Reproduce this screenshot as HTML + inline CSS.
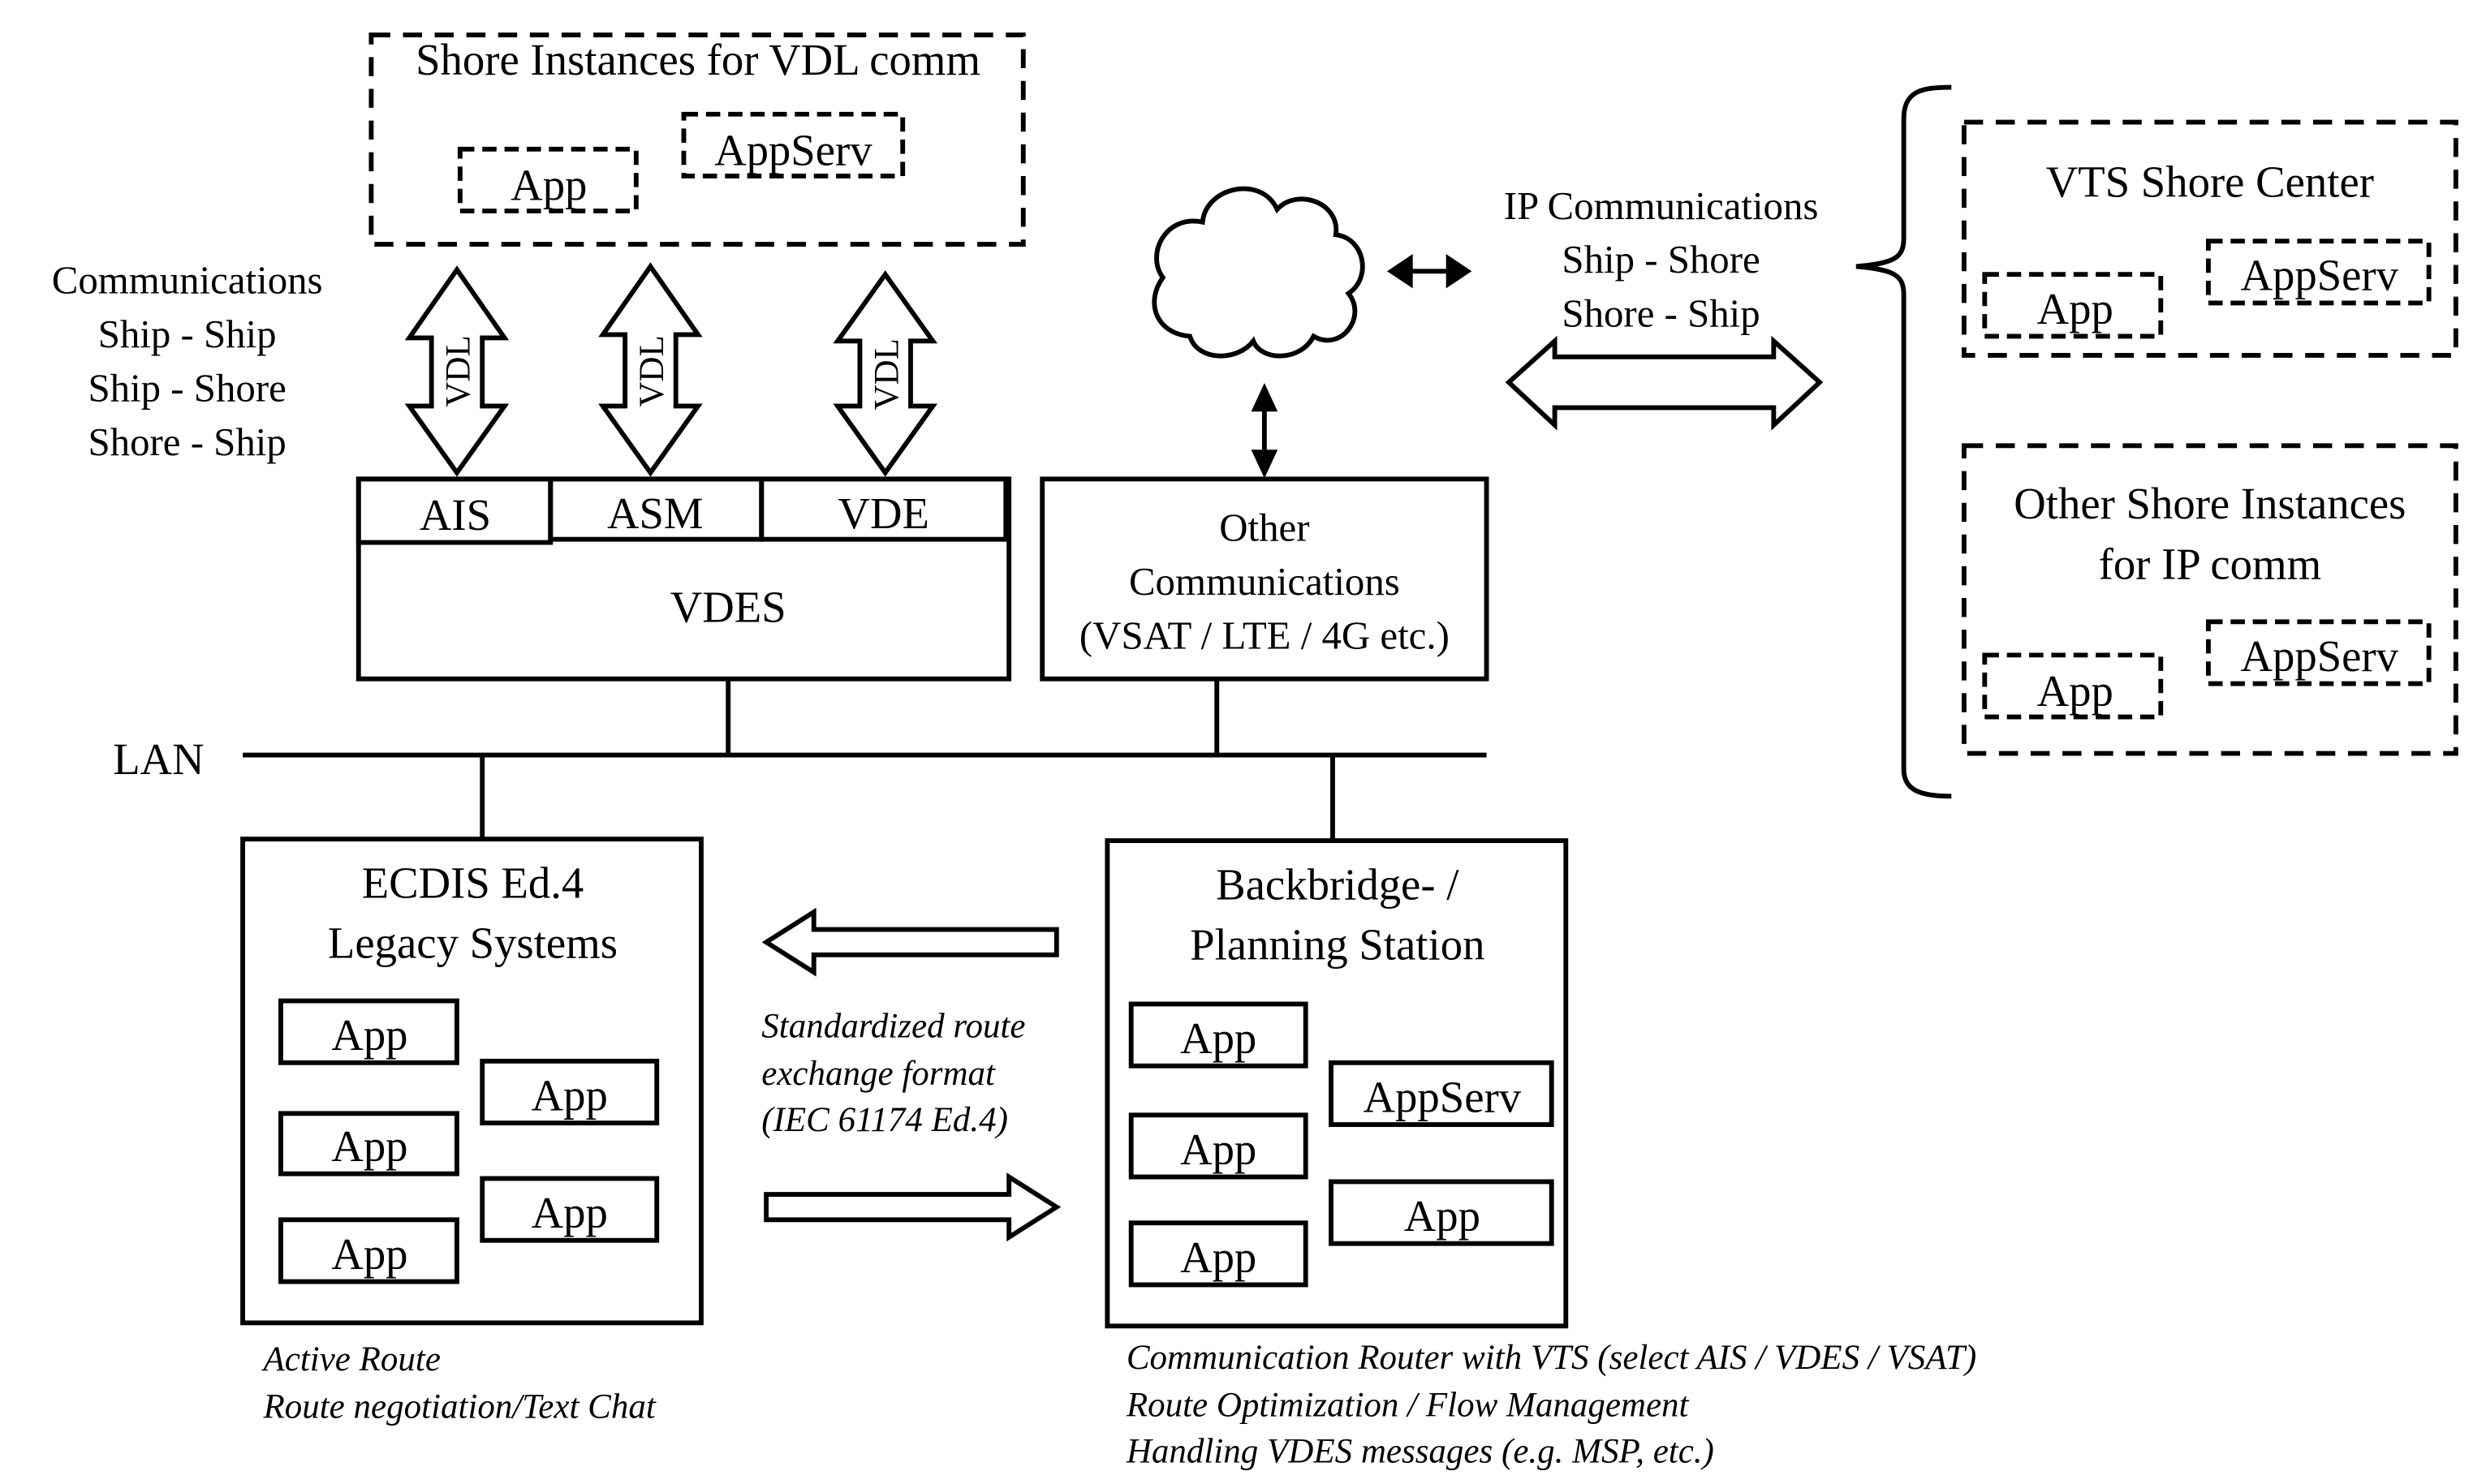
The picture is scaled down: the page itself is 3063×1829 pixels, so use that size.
<!DOCTYPE html>
<html><head><meta charset="utf-8"><style>html,body{margin:0;padding:0;background:#fff}svg{display:block}svg text{font-family:"Liberation Serif","Times New Roman",serif}</style></head>
<body>
<svg width="3063" height="1829" viewBox="0 0 1567 935.6" preserveAspectRatio="none" xmlns="http://www.w3.org/2000/svg" font-family="'Liberation Serif', serif">
<g fill="none" stroke="#000" stroke-width="3">
<rect x="234" y="22" width="411" height="132" stroke-dasharray="12,8"/>
<rect x="290" y="94" width="111" height="39" stroke-dasharray="9,5"/>
<rect x="431" y="72" width="138" height="39" stroke-dasharray="9,5"/>
<path d="M288,170 L318,213 L304,213 L304,256 L318,256 L288,298 L258,256 L272,256 L272,213 L258,213 Z"/>
<path d="M410,168 L440,211 L426,211 L426,256 L440,256 L410,298 L380,256 L394,256 L394,211 L380,211 Z"/>
<path d="M558,173 L588,215 L574,215 L574,256 L588,256 L558,298 L528,256 L542,256 L542,215 L528,215 Z"/>
<rect x="226" y="302" width="410" height="126"/>
<rect x="226" y="302" width="121" height="40"/>
<rect x="347" y="302" width="133" height="38"/>
<rect x="480" y="302" width="154" height="38"/>
<rect x="657" y="302" width="280" height="126"/>
<path d="M750,212 C728,210 722,190 733,175 C722,160 735,135 758,140 C760,118 795,110 805,132 C818,118 845,128 842,148 C860,150 865,175 850,185 C862,200 845,222 828,212 C820,228 795,228 790,215 C780,228 755,228 750,212 Z"/>
<line x1="153" y1="476" x2="937" y2="476"/>
<line x1="459" y1="428" x2="459" y2="476"/>
<line x1="767" y1="428" x2="767" y2="476"/>
<line x1="304" y1="476" x2="304" y2="529"/>
<line x1="840" y1="476" x2="840" y2="530"/>
<path d="M951,241 L980,215 L980,225 L1118,225 L1118,215 L1147,241 L1118,268 L1118,257 L980,257 L980,268 Z"/>
<path d="M1230,55 C1210,55 1200,58 1200,75 L1200,150 C1200,162 1195,166 1170,168 C1195,170 1200,174 1200,186 L1200,485 C1200,498 1210,502 1230,502"/>
<rect x="1238" y="77" width="310" height="147" stroke-dasharray="12,8"/>
<rect x="1251" y="173" width="111" height="39" stroke-dasharray="9,5"/>
<rect x="1392" y="152" width="139" height="39" stroke-dasharray="9,5"/>
<rect x="1238" y="281" width="310" height="194" stroke-dasharray="12,8"/>
<rect x="1251" y="413" width="111" height="39" stroke-dasharray="9,5"/>
<rect x="1392" y="392" width="139" height="39" stroke-dasharray="9,5"/>
<rect x="153" y="529" width="289" height="305"/>
<rect x="177" y="631" width="111" height="39"/>
<rect x="177" y="702" width="111" height="38"/>
<rect x="177" y="769" width="111" height="39"/>
<rect x="304" y="669" width="110" height="39"/>
<rect x="304" y="743" width="110" height="39"/>
<rect x="698" y="530" width="289" height="306"/>
<rect x="713" y="633" width="110" height="39"/>
<rect x="713" y="703" width="110" height="39"/>
<rect x="713" y="771" width="110" height="39"/>
<rect x="839" y="670" width="139" height="39"/>
<rect x="839" y="745" width="139" height="39"/>
<path d="M483,594 L513,575 L513,586 L666,586 L666,602 L513,602 L513,613 Z"/>
<path d="M666,761 L636,742 L636,753 L483,753 L483,769 L636,769 L636,780 Z"/>
</g>
<g stroke="#000" stroke-width="3" fill="#000">
<line x1="887" y1="171" x2="915" y2="171"/>
<path d="M877,171 L889,163 L889,179 Z"/><path d="M925,171 L913,163 L913,179 Z"/>
<line x1="797" y1="255" x2="797" y2="288"/>
<path d="M797,245 L791,258 L803,258 Z"/><path d="M797,298 L791,285 L803,285 Z"/>
</g>
<g font-size="28" text-anchor="middle" fill="#000">
<text x="440" y="47">Shore Instances for VDL comm</text>
<text x="346" y="126">App</text>
<text x="500" y="104">AppServ</text>
<text x="287" y="334">AIS</text>
<text x="413" y="333">ASM</text>
<text x="557" y="333">VDE</text>
<text x="459" y="392">VDES</text>
<text x="1393" y="124">VTS Shore Center</text>
<text x="1308" y="204">App</text>
<text x="1462" y="183">AppServ</text>
<text x="1393" y="327">Other Shore Instances</text>
<text x="1393" y="365">for IP comm</text>
<text x="1308" y="445">App</text>
<text x="1462" y="423">AppServ</text>
<text x="100" y="488">LAN</text>
<text x="298" y="566">ECDIS Ed.4</text>
<text x="298" y="604">Legacy Systems</text>
<text x="233" y="662">App</text><text x="233" y="732">App</text><text x="233" y="800">App</text>
<text x="359" y="700">App</text><text x="359" y="774">App</text>
<text x="843" y="567">Backbridge- /</text>
<text x="843" y="605">Planning Station</text>
<text x="768" y="664">App</text><text x="768" y="734">App</text><text x="768" y="802">App</text>
<text x="909" y="701">AppServ</text><text x="909" y="776">App</text>
</g>
<g font-size="25" text-anchor="middle" fill="#000">
<text x="118" y="185">Communications</text>
<text x="118" y="219">Ship - Ship</text>
<text x="118" y="253">Ship - Shore</text>
<text x="118" y="287">Shore - Ship</text>
<text x="797" y="341">Other</text>
<text x="797" y="375">Communications</text>
<text x="797" y="409">(VSAT / LTE / 4G etc.)</text>
<text x="1047" y="138">IP Communications</text>
<text x="1047" y="172">Ship - Shore</text>
<text x="1047" y="206">Shore - Ship</text>
</g>
<g font-size="22" text-anchor="middle" fill="#000">
<text transform="translate(296,234) rotate(-90)">VDL</text>
<text transform="translate(418,234) rotate(-90)">VDL</text>
<text transform="translate(566,236) rotate(-90)">VDL</text>
</g>
<g font-size="22" font-style="italic" fill="#000">
<text x="480" y="654">Standardized route</text>
<text x="480" y="684">exchange format</text>
<text x="480" y="713">(IEC 61174 Ed.4)</text>
<text x="166" y="864">Active Route</text>
<text x="166" y="894">Route negotiation/Text Chat</text>
<text x="710" y="863">Communication Router with VTS (select AIS / VDES / VSAT)</text>
<text x="710" y="893">Route Optimization / Flow Management</text>
<text x="710" y="922">Handling VDES messages (e.g. MSP, etc.)</text>
</g>
</svg>
</body></html>
